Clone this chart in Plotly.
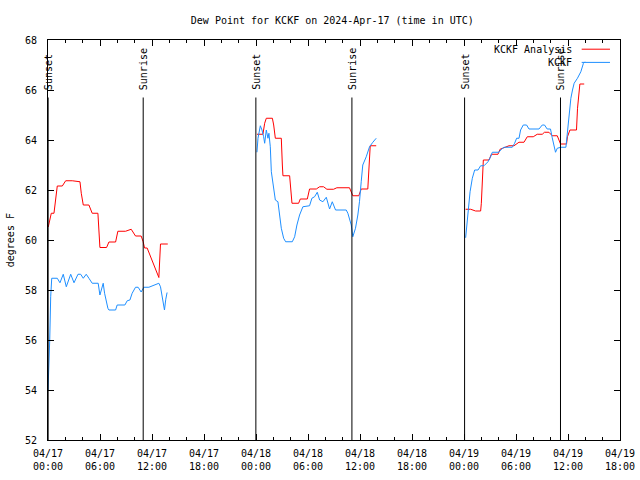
import pandas as pd
import plotly.graph_objects as go

BASE = pd.Timestamp("2024-04-17 00:00")

# ---- data (hours since 2024-04-17 00:00 UTC, dew point in F); None = gap ----
analysis_hours = [
    0.03, 0.23, 0.38, 0.69, 1.0, 1.07, 1.65, 2.04, 2.8, 3.69, 3.84, 4.07, 4.72, 5.1, 5.76,
    5.99, 6.76, 7.03, 7.8, 8.06, 8.95, 9.6, 10.1, 10.75, 10.98, 11.14, 11.44, 12.79, 12.98, 13.82,
    None,
    24.11, 24.8, 25.0, 25.19, 25.89, 26.04, 26.23, 26.92, 27.04, 27.11, 27.88, 28.0, 28.15, 28.92,
    29.11, 29.92, 30.18, 30.96, 31.34, 31.8, 32.18, 32.95, 33.33, 34.79, 34.99, 35.17, 35.86,
    36.14, 36.9, 37.02, 37.18, 37.87,
    None,
    48.19, 48.77, 49.34, 49.92, 50.0, 50.12, 50.23, 50.89, 51.15, 51.92, 52.16, 52.61, 53.19,
    53.77, 54.34, 54.92, 55.3, 55.99, 56.45, 57.03, 57.29, 57.8, 58.18, 58.76, 58.95, 59.14,
    59.83, 59.94, 60.22, 60.98, 61.1, 61.37, 61.87,
]
analysis_dewpt = [
    60.52, 60.8, 61.07, 61.07, 61.93, 62.16, 62.16, 62.37, 62.37, 62.33, 61.87, 61.4, 61.4, 61.07, 61.07,
    59.7, 59.7, 59.92, 59.92, 60.35, 60.35, 60.43, 60.16, 60.16, 59.93, 59.68, 59.68, 58.5, 59.84, 59.84,
    None,
    64.23, 64.23, 64.67, 64.87, 64.87, 64.6, 64.07, 64.07, 63.0, 62.57, 62.57, 62.07, 61.47, 61.47,
    61.64, 61.64, 62.04, 62.04, 62.13, 62.13, 62.03, 62.03, 62.09, 62.09, 61.91, 61.77, 61.77,
    62.04, 62.04, 62.73, 63.77, 63.77,
    None,
    61.23, 61.23, 61.16, 61.16, 61.47, 62.33, 63.2, 63.2, 63.43, 63.43, 63.63, 63.69, 63.77,
    63.77, 63.91, 63.91, 64.13, 64.13, 64.23, 64.23, 64.31, 64.31, 64.17, 64.17, 64.0, 63.84,
    63.84, 64.13, 64.4, 64.4, 65.27, 66.24, 66.24,
]

obs_hours = [
    0.0, 0.08, 0.2, 0.31, 0.43, 1.07, 1.38, 1.76, 2.11, 2.62, 3.0, 3.46, 3.77, 4.07, 4.41, 4.72,
    5.1, 5.79, 5.99, 6.37, 6.53, 6.91, 7.03, 7.8, 7.98, 8.87, 9.14, 9.45, 9.71, 10.1, 10.4,
    10.75, 10.98, 11.06, 11.64, 12.29, 12.79, 12.98, 13.17, 13.28, 13.44, 13.59, 13.74,
    None,
    24.11, 24.23, 24.5, 24.69, 24.88, 25.0, 25.19, 25.38, 25.49, 25.65, 25.77, 26.04, 26.23,
    26.53, 26.73, 26.92, 27.19, 27.42, 28.19, 28.46, 28.72, 29.03, 29.41, 30.18, 30.45, 30.76,
    31.07, 31.34, 31.72, 32.11, 32.49, 32.8, 33.18, 34.41, 34.6, 34.79, 34.99, 35.17, 35.48,
    35.75, 35.94, 36.14, 36.32, 36.72, 37.1, 37.48, 37.87,
    None,
    48.19, 48.39, 48.5, 48.7, 48.96, 49.23, 49.62, 49.92, 50.31, 50.77, 51.07, 51.27, 52.04,
    52.22, 52.61, 53.57, 53.84, 54.07, 54.35, 54.53, 54.84, 55.22, 55.5, 56.65, 57.03, 57.29,
    57.6, 57.98, 58.18, 58.38, 58.56, 58.76, 59.18, 59.76, 59.94, 60.14, 60.33, 60.52, 60.71,
    61.09, 61.48, 61.78, 61.94,
]
obs_dewpt = [
    53.98, 54.67, 56.0, 57.73, 58.47, 58.47, 58.29, 58.63, 58.13, 58.63, 58.29, 58.63, 58.63, 58.47, 58.63, 58.47,
    58.27, 58.27, 57.8, 58.27, 57.87, 57.27, 57.2, 57.2, 57.4, 57.4, 57.57, 57.6, 57.87, 58.11, 58.11,
    57.92, 58.03, 58.11, 58.11, 58.21, 58.27, 58.13, 57.73, 57.6, 57.2, 57.63, 57.9,
    None,
    63.51, 64.07, 64.57, 64.4, 64.13, 63.87, 64.4, 64.07, 64.27, 63.73, 62.73, 61.93, 61.6,
    61.53, 61.0, 60.47, 60.07, 59.93, 59.93, 60.13, 60.6, 61.0, 61.33, 61.37, 61.67, 61.73,
    61.91, 61.6, 61.53, 61.71, 61.24, 61.53, 61.2, 61.2, 61.07, 60.8, 60.6, 60.13, 60.47,
    61.0, 61.53, 62.33, 63.0, 63.33, 63.73, 63.91, 64.07,
    None,
    60.09, 60.87, 61.4, 61.93, 62.47, 62.8, 62.8, 62.97, 62.97, 63.13, 63.33, 63.51, 63.51,
    63.6, 63.71, 63.71, 63.87, 64.07, 64.07, 64.4, 64.6, 64.6, 64.44, 64.44, 64.6, 64.6,
    64.44, 64.44, 64.09, 63.8, 63.51, 63.67, 63.71, 63.71, 64.33, 64.93, 65.67, 66.0, 66.27,
    66.47, 66.73, 67.07, 67.13,
]

sun_events = ["Sunset", "Sunrise", "Sunset", "Sunrise", "Sunset", "Sunrise"]
sun_times = ["2024-04-17 00:01", "2024-04-17 10:59", "2024-04-17 23:59",
             "2024-04-18 11:04", "2024-04-19 00:04", "2024-04-19 11:08"]

series_names = ["KCKF Analysis", "KCKF"]
series_colors = ["#ff0000", "#1e8fff"]

TITLE = "Dew Point for KCKF on 2024-Apr-17 (time in UTC)"
FONT = "DejaVu Sans Mono"


def to_time(hours):
    return [None if h is None else BASE + pd.Timedelta(hours=h) for h in hours]


fig = go.Figure()
fig.add_trace(go.Scatter(x=to_time(analysis_hours), y=analysis_dewpt, mode="lines",
                         line=dict(color=series_colors[0], width=1), name=series_names[0],
                         connectgaps=False, showlegend=False))
fig.add_trace(go.Scatter(x=to_time(obs_hours), y=obs_dewpt, mode="lines",
                         line=dict(color=series_colors[1], width=1), name=series_names[1],
                         connectgaps=False, showlegend=False))

# sunrise / sunset markers
for ev, t in zip(sun_events, sun_times):
    fig.add_shape(type="line", xref="x", yref="y", x0=t, x1=t, y0=52, y1=65.7,
                  line=dict(color="black", width=1))
    fig.add_annotation(x=t, y=65.92, xref="x", yref="y", text=ev, textangle=-90,
                       showarrow=False, xanchor="center", yanchor="bottom",
                       font=dict(family=FONT, size=10, color="black"))

# manual gnuplot-style legend (text then line sample)
for i, (nm, col) in enumerate(zip(series_names, series_colors)):
    yp = 0.977 - i * 0.033
    fig.add_annotation(x=0.92, y=yp, xref="paper", yref="paper", text=nm, showarrow=False,
                       xanchor="right", yanchor="middle",
                       font=dict(family=FONT, size=10, color="black"))
    fig.add_shape(type="line", xref="paper", yref="paper", x0=0.933, x1=0.9825, y0=yp, y1=yp,
                  line=dict(color=col, width=1))

fig.add_annotation(x=-0.066, y=0.5, xref="paper", yref="paper", text="degrees F",
                   textangle=-90, showarrow=False, xanchor="center", yanchor="middle",
                   font=dict(family=FONT, size=10, color="black"))

fig.update_layout(
    width=640, height=480,
    margin=dict(l=48, r=20, t=40, b=40, autoexpand=False),
    paper_bgcolor="white", plot_bgcolor="white",
    title=dict(text=TITLE, x=0.497, xref="paper", y=1 - 20 / 480, yref="container",
               xanchor="center", yanchor="middle",
               font=dict(family=FONT, size=10, color="black")),
    font=dict(family=FONT, size=10, color="black"),
    showlegend=False,
)
fig.update_xaxes(
    type="date", range=["2024-04-17 00:00", "2024-04-19 18:00"],
    tick0="2024-04-17 00:00", dtick=6 * 3600 * 1000, tickformat="%m/%d<br>%H:%M",
    ticks="inside", ticklen=6, tickcolor="black", showgrid=False, zeroline=False,
    showline=True, linecolor="black", linewidth=1, mirror="ticks", automargin=False,
    ticklabelstandoff=4,
    minor=dict(dtick=2 * 3600 * 1000, ticks="inside", ticklen=3, tickcolor="black", showgrid=False),
    tickfont=dict(family=FONT, size=10, color="black"),
)
fig.update_yaxes(
    range=[52, 68], dtick=2, tick0=52,
    ticks="inside", ticklen=6, tickcolor="black", showgrid=False, zeroline=False,
    showline=True, linecolor="black", linewidth=1, mirror="ticks", automargin=False,
    ticklabelstandoff=8,
    tickfont=dict(family=FONT, size=10, color="black"),
)

fig.write_html("out.html", config={"displayModeBar": False},
               post_script="document.body.style.margin='0';")
